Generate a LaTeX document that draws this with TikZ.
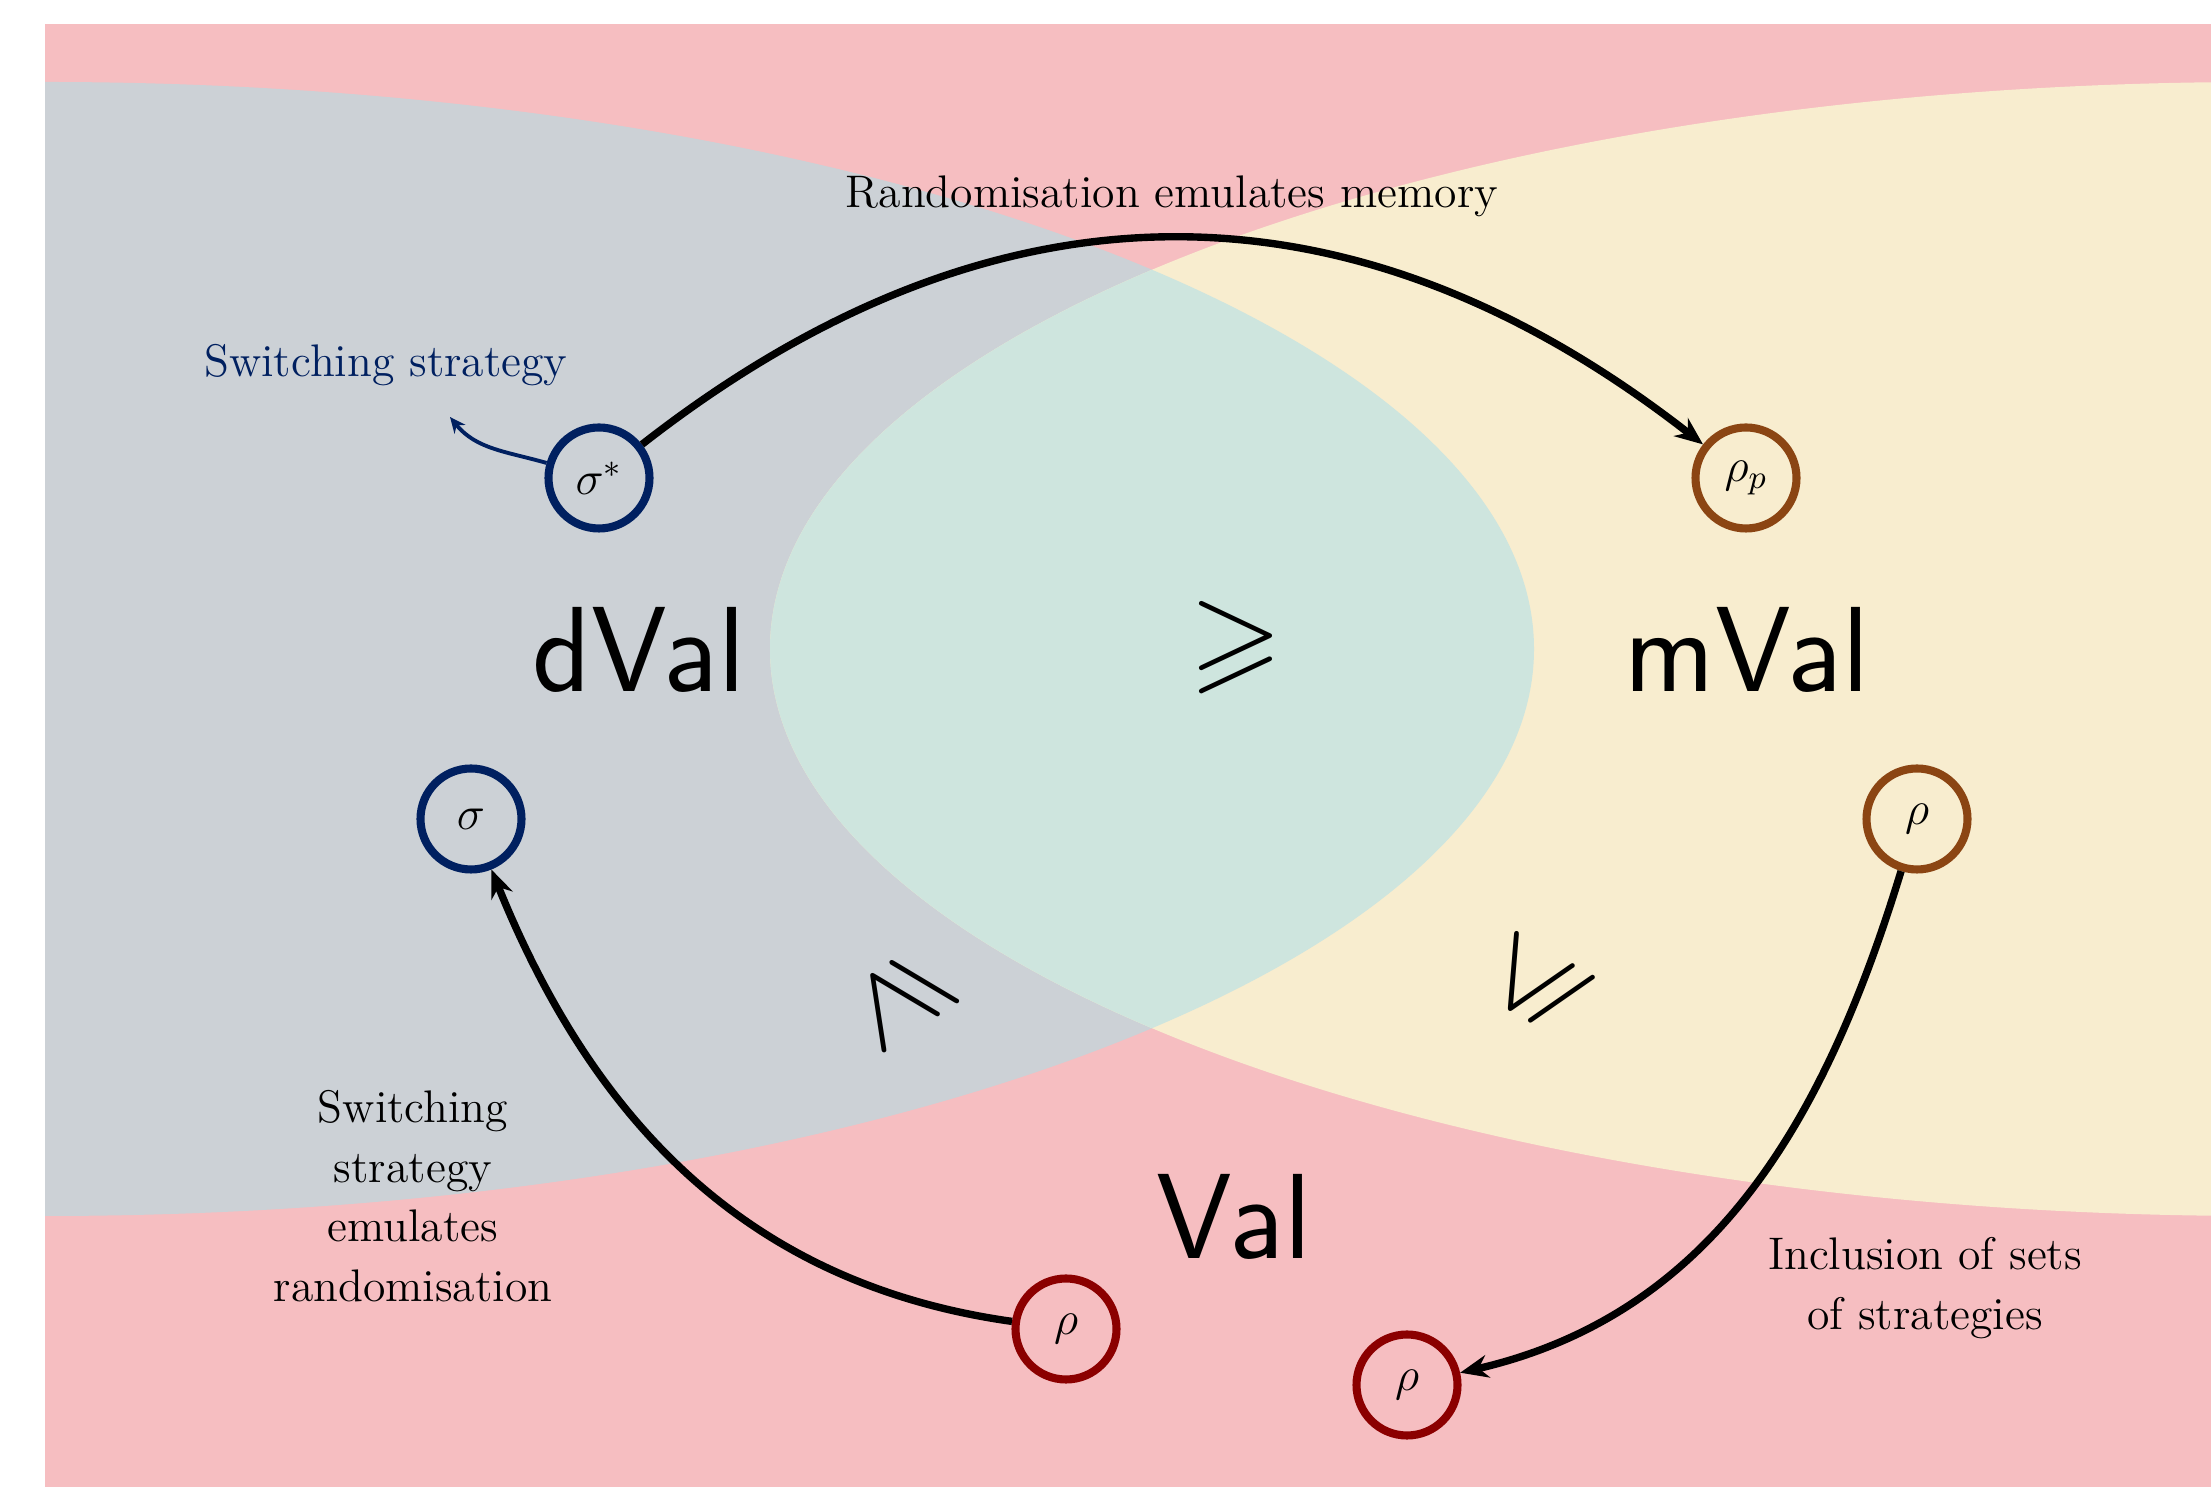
\RequirePackage{fix-cm}
\documentclass[tikz,border=0pt]{standalone}
\usepackage{tikz}
\usepackage{amsmath, amssymb}
\usepackage{xcolor}
\usetikzlibrary{arrows.meta, positioning, calc}

\definecolor{bgpink}{RGB}{246,190,193}
\definecolor{detgray}{RGB}{204,209,214}
\definecolor{memyellow}{RGB}{248,237,207}
\definecolor{overlapteal}{RGB}{206,229,222}
\definecolor{navy}{RGB}{0,32,96}
\definecolor{brownish}{RGB}{139,69,19}
\definecolor{darkred}{RGB}{139,0,0}

\begin{document}
\begin{tikzpicture}[
    font=\fontsize{13}{16.9}\selectfont,
    strat/.style={circle, draw, line width=2.3pt, minimum size=1.01cm, inner sep=0pt, font=\fontsize{13.5}{16}\selectfont},
    bigval/.style={font=\fontsize{34.5}{40}\selectfont\sffamily, inner sep=0pt, anchor=base},
    relsym/.style={font=\fontsize{17.28}{20}\selectfont, inner sep=0pt, scale=1.97},
    emul/.style={line width=2.1pt, -{Stealth[length=8pt,width=6.5pt]}},
    note/.style={inner sep=0pt, align=center}
  ]

  \useasboundingbox (0,0) rectangle (22.11,14.87);

  % Sets of strategies
  \begin{scope}
    \clip (0.45,0) rectangle (22.11,14.63);
    \fill[bgpink] (0.45,0) rectangle (22.11,14.63);
    \fill[detgray] (0.45,8.38) ellipse [x radius=14.89, y radius=5.67];
    \fill[memyellow] (22.59,8.38) ellipse [x radius=14.89, y radius=5.67];
    \clip (0.45,8.38) ellipse [x radius=14.89, y radius=5.67];
    \fill[overlapteal] (22.59,8.38) ellipse [x radius=14.89, y radius=5.67];
  \end{scope}

  % Values
  \node[bigval] (dval) at (6.39,7.95) {dVal};
  \node[bigval] (mval) at (17.47,7.95) {mVal};
  \node[bigval] (val) at (12.34,2.28) {Val};

  \node[relsym] (geqtop) at (12.36,8.39) {$\geqslant$};
  \node[relsym, rotate=124] (geqleft) at (9.02,4.89) {$\geqslant$};
  \node[relsym, rotate=60] (leqright) at (15.38,5.02) {$\leqslant$};

  % Strategies
  \node[strat, navy] (sstar) at (5.99,10.09) {\color{black}$\sigma^*$};
  \node[strat, brownish] (rhop) at (17.46,10.09) {\color{black}$\rho_p$};
  \node[strat, navy] (sig) at (4.71,6.68) {\color{black}$\sigma$};
  \node[strat, brownish] (rhob) at (19.17,6.68) {\color{black}$\rho$};
  \node[strat, darkred] (rhol) at (10.66,1.58) {\color{black}$\rho$};
  \node[strat, darkred] (rhor) at (14.07,1.02) {\color{black}$\rho$};

  % Labels
  \node[note, anchor=base] (memlabel) at (11.72,12.79) {Randomisation emulates memory};
  \node[note, navy, anchor=base] (swlabel) at (3.86,11.10) {Switching strategy};
  \node[note, anchor=north] (randlabel) at (4.13,3.97) {Switching\\strategy\\emulates\\randomisation};
  \node[note, anchor=north] (incllabel) at (19.25,2.50) {Inclusion of sets\\of strategies};
  \coordinate (swend) at (4.50,10.70);

  % Emulations
  \draw[emul] (sstar) to[out=38, in=142, looseness=1.08] (rhop);
  \draw[emul] (rhol) to[out=172, in=-68] (sig);
  \draw[emul] (rhob) to[out=-107, in=13] (rhor);
  \draw[navy, line width=1.1pt, -{Stealth[length=4.5pt,width=4pt]}] (sstar) to[out=164, in=-51] (swend);

\end{tikzpicture}
\end{document}
